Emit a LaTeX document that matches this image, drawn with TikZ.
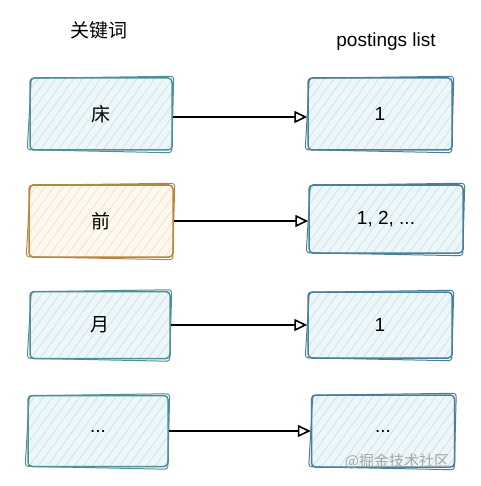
\documentclass[tikz,border=0pt]{standalone}
\usepackage{fontspec}
\setmainfont{Liberation Sans}
\newfontfamily\cjk{Noto Sans CJK SC}
\usetikzlibrary{arrows.meta}
\definecolor{tealS}{HTML}{4F8F96}
\definecolor{tealF}{HTML}{EDF7F9}
\definecolor{blueS}{HTML}{4A7F99}
\definecolor{orS}{HTML}{B8863B}
\definecolor{orF}{HTML}{FDF8EE}
\definecolor{hatchT}{HTML}{C4DEE4}
\definecolor{hatchO}{HTML}{EADFC6}
\tikzset{
  sbox/.style n args={3}{draw=#1, fill=#2, line width=1.5pt, rounded corners=4pt,
    inner sep=0pt, font=\fontsize{19}{22}\selectfont,
    path picture={\foreach \i in {-260,-251,...,160}
      \draw[#3, line width=0.6pt] ([xshift=\i pt]path picture bounding box.south west) -- ++(80pt,110pt);}},
  tbox/.style={sbox={tealS}{tealF}{hatchT}},
  bbox/.style={sbox={blueS}{tealF}{hatchT}},
  obox/.style={sbox={orS}{orF}{hatchO}},
  rough/.style={line width=1pt, rounded corners=3pt},
  conn/.style={line width=2pt, -{Triangle[open, length=13pt, width=12pt, line width=1.6pt]}},
  hdr/.style={font=\fontsize{19}{22}\selectfont}
}
\newcommand{\roughline}[2]{%
  \draw[rough, #2] ([shift={(2pt,-1pt)}]#1.north west) -- ([shift={(1pt,1pt)}]#1.north east)
     -- ([shift={(-1pt,-2pt)}]#1.south east) -- ([shift={(-2pt,1pt)}]#1.south west) -- cycle;}
\begin{document}
\begin{tikzpicture}[x=1pt,y=-1pt]
\useasboundingbox (0,0) rectangle (480,486);
\node[hdr] (h1) at (99,30) {\cjk 关键词};
\node[hdr] (h2) at (386,42) {postings list};

\node[tbox, minimum width=142pt, minimum height=72pt] (k1) at (101,114) {\cjk 床};
\node[obox, minimum width=144pt, minimum height=72pt] (k2) at (101,221) {\cjk 前};
\node[tbox, minimum width=140pt, minimum height=67pt] (k3) at (100,325) {\cjk 月};
\node[tbox, minimum width=140pt, minimum height=71pt] (k4) at (98,431) {...};

\node[bbox, minimum width=144pt, minimum height=72pt] (p1) at (380,114) {1};
\node[bbox, minimum width=154pt, minimum height=68pt] (p2) at (386,219) {1, 2, ...};
\node[bbox, minimum width=144pt, minimum height=66pt] (p3) at (380,325) {1};
\node[bbox, minimum width=143pt, minimum height=72pt] (p4) at (383,431) {...};

\roughline{k1}{tealS}
\roughline{k2}{orS}
\roughline{k3}{tealS}
\roughline{k4}{tealS}
\roughline{p1}{blueS}
\roughline{p2}{blueS}
\roughline{p3}{blueS}
\roughline{p4}{blueS}

\draw[conn] ([yshift=-3pt]k1.east) -- ([yshift=-3pt]p1.west);
\draw[conn] (k2.east) -- ([yshift=-2pt]p2.west);
\draw[conn] (k3.east) -- (p3.west);
\draw[conn] (k4.east) -- (p4.west);

\node[font=\cjk\fontsize{15}{17}\selectfont, text=black!35] (wm) at (397,461) {@掘金技术社区};
\end{tikzpicture}
\end{document}
